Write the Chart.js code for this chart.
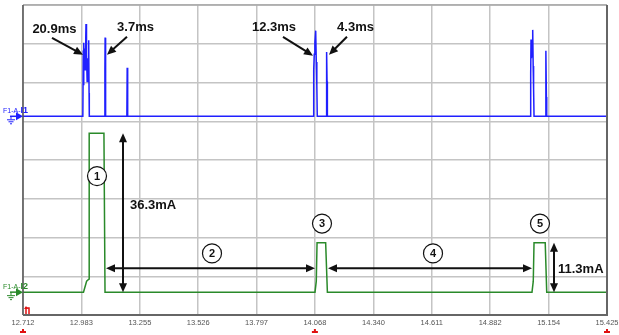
<!DOCTYPE html>
<html>
<head>
<meta charset="utf-8">
<script src="https://cdn.jsdelivr.net/npm/chart.js@4/dist/chart.umd.min.js"></script>
<style>
    body { margin: 0; background: #fff; }
</style>
</head>
<body>
<canvas id="myChart" width="619" height="335"></canvas>
<script>
/*
    Two channel scope capture: I1 (blue) on top, I2 (green, mA) below
*/

// x axis tick labels (time, s)
const tickLabels = ["12.712", "12.983", "13.255", "13.526", "13.797", "14.068", "14.340", "14.611", "14.882", "15.154", "15.425"]

// channel I1 - time (s) and level (divisions above its baseline)
const blueTime = [
    12.712,
    12.990, 12.992, 12.9935, 12.995, 12.997, 12.999, 13.001, 13.0035, 13.0047, 13.006, 13.008, 13.010, 13.012, 13.0145, 13.0172, 13.019, 13.020,
    13.0905, 13.0925, 13.0935, 13.095, 13.0965,
    13.1945, 13.1960, 13.1975, 13.199,
    14.060, 14.0625, 14.065, 14.068, 14.0717, 14.0745, 14.077, 14.079,
    14.1205, 14.1225, 14.1245, 14.126,
    15.069, 15.0705, 15.072, 15.074, 15.077, 15.0799, 15.082, 15.084, 15.086,
    15.139, 15.1405, 15.1416, 15.1435, 15.145,
    15.425
]
const blueValue = [
    0,
    0, 1.7, 0.8, 1.9, 1.4, 1.75, 1.2, 2.0, 2.38, 1.3, 1.6, 0.9, 1.5, 1.0, 1.96, 0.6, 0,
    0, 1.2, 2.03, 0.4, 0,
    0, 1.25, 0.6, 0,
    0, 1.2, 1.6, 1.9, 2.21, 1.4, 0.8, 0,
    0, 1.66, 0.9, 0,
    0, 1.1, 1.98, 1.5, 1.8, 2.23, 1.3, 0.7, 0,
    0, 0.9, 1.69, 0.5, 0,
    0
]

// channel I2 - time (s) and current (mA)
const greenTime = [12.712, 12.993, 13.0075, 13.019, 13.0195, 13.088, 13.093, 14.0685, 14.0745, 14.078, 14.118, 14.126, 15.0766, 15.0825, 15.086, 15.138, 15.145, 15.425]
const greenValue = [0, 0, 2.5, 3.0, 36.3, 36.3, 0, 0, 2.5, 11.3, 11.3, 0, 0, 2.5, 11.3, 11.3, 0, 0]

// annotations: t = time (s), d = grid divisions, mA = I2 axis
const msLabels = [
    { text: "20.9ms", t: 12.858, d: 7.36, fromT: 12.8467, fromD: 7.154, toT: 12.9907, toD: 6.718 },
    { text: "3.7ms", t: 13.2346, d: 7.41, fromT: 13.1951, fromD: 7.179, toT: 13.1022, toD: 6.718 },
    { text: "12.3ms", t: 13.878, d: 7.41, fromT: 13.9198, fromD: 7.179, toT: 14.0592, toD: 6.692 },
    { text: "4.3ms", t: 14.2567, d: 7.41, fromT: 14.2171, fromD: 7.179, toT: 14.1335, toD: 6.718 },
]
const mAArrows = [
    { t1: 13.1766, m1: 0, t2: 13.1766, m2: 36.3 },
    { t1: 13.0976, m1: 5.45, t2: 14.0685, m2: 5.45 },
    { t1: 14.129, m1: 5.45, t2: 15.0766, m2: 5.45 },
    { t1: 15.1788, m1: 0, t2: 15.1788, m2: 11.3 },
]
const mAText = [
    { text: "36.3mA", t: 13.209, mA: 19.7 },
    { text: "11.3mA", t: 15.1974, mA: 5.2 },
]
const circles = [
    { n: "1", t: 13.0558, mA: 26.5 },
    { n: "2", t: 13.590, mA: 8.85 },
    { n: "3", t: 14.101, mA: 15.66 },
    { n: "4", t: 14.6167, mA: 8.85 },
    { n: "5", t: 15.1137, mA: 15.66 },
]
const triggerTicks = ["12.712", "14.068", "15.425"]

const FONT = "'Liberation Sans', Arial, sans-serif"

function drawArrow(ctx, x1, y1, x2, y2, both) {
    const ang = Math.atan2(y2 - y1, x2 - x1)
    const len = 9, half = 4
    const head = (x, y, a) => {
        ctx.beginPath()
        ctx.moveTo(x, y)
        ctx.lineTo(x - len * Math.cos(a) + half * Math.sin(a), y - len * Math.sin(a) - half * Math.cos(a))
        ctx.lineTo(x - len * Math.cos(a) - half * Math.sin(a), y - len * Math.sin(a) + half * Math.cos(a))
        ctx.closePath()
        ctx.fill()
    }
    ctx.beginPath()
    const sx = both ? x1 + (len - 2) * Math.cos(ang) : x1
    const sy = both ? y1 + (len - 2) * Math.sin(ang) : y1
    ctx.moveTo(sx, sy)
    ctx.lineTo(x2 - (len - 2) * Math.cos(ang), y2 - (len - 2) * Math.sin(ang))
    ctx.stroke()
    head(x2, y2, ang)
    if (both) head(x1, y1, ang + Math.PI)
}

function channelTag(ctx, left, y, color, name) {
    ctx.fillStyle = color
    ctx.strokeStyle = color
    ctx.textBaseline = "alphabetic"
    ctx.textAlign = "left"
    ctx.font = `7px ${FONT}`
    ctx.fillText("F1-A-", 3, y - 3)
    const w = ctx.measureText("F1-A-").width
    ctx.font = `bold 9px ${FONT}`
    ctx.fillText(name, 3 + w, y - 3)
    // arrow into the trace
    ctx.lineWidth = 1.5
    ctx.beginPath()
    ctx.moveTo(10, y); ctx.lineTo(17, y); ctx.stroke()
    ctx.beginPath()
    ctx.moveTo(16, y - 4); ctx.lineTo(left, y); ctx.lineTo(16, y + 4); ctx.closePath(); ctx.fill()
    // ground mark
    ctx.lineWidth = 1
    ctx.beginPath()
    ctx.moveTo(11, y); ctx.lineTo(11, y + 3)
    ctx.moveTo(7, y + 3.5); ctx.lineTo(15, y + 3.5)
    ctx.moveTo(8.5, y + 5.5); ctx.lineTo(13.5, y + 5.5)
    ctx.moveTo(10, y + 7.5); ctx.lineTo(12, y + 7.5)
    ctx.stroke()
}

const notesPlugin = {
    id: "notes",
    afterDatasetsDraw(chart) {
        const ctx = chart.ctx
        const a = chart.chartArea
        const sx = chart.scales.x, sd = chart.scales.grid, sm = chart.scales.yG, sb = chart.scales.yB
        ctx.save()

        // frame
        ctx.lineCap = "butt"
        ctx.strokeStyle = "#a8a8a8"; ctx.lineWidth = 1.5
        ctx.beginPath(); ctx.moveTo(a.left, a.top); ctx.lineTo(a.right, a.top); ctx.stroke()
        ctx.strokeStyle = "#555"; ctx.lineWidth = 1.5
        ctx.beginPath(); ctx.moveTo(a.left, a.top); ctx.lineTo(a.left, a.bottom); ctx.stroke()
        ctx.strokeStyle = "#666"; ctx.lineWidth = 2
        ctx.beginPath(); ctx.moveTo(a.right, a.top); ctx.lineTo(a.right, a.bottom); ctx.lineTo(a.left, a.bottom); ctx.stroke()

        ctx.fillStyle = "#111"; ctx.strokeStyle = "#111"; ctx.lineWidth = 2

        // ms labels + arrows
        ctx.font = `bold 13px ${FONT}`
        ctx.textAlign = "center"; ctx.textBaseline = "middle"
        msLabels.forEach(l => {
            ctx.fillText(l.text, sx.getPixelForValue(l.t), sd.getPixelForValue(l.d))
            drawArrow(ctx, sx.getPixelForValue(l.fromT), sd.getPixelForValue(l.fromD),
                sx.getPixelForValue(l.toT), sd.getPixelForValue(l.toD), false)
        })

        // mA arrows
        mAArrows.forEach(r => {
            drawArrow(ctx, sx.getPixelForValue(r.t1), sm.getPixelForValue(r.m1),
                sx.getPixelForValue(r.t2), sm.getPixelForValue(r.m2), true)
        })
        ctx.textAlign = "left"
        mAText.forEach(l => {
            ctx.fillText(l.text, sx.getPixelForValue(l.t), sm.getPixelForValue(l.mA))
        })

        // numbered circles
        ctx.lineWidth = 1.2
        ctx.font = `bold 11px ${FONT}`
        ctx.textAlign = "center"
        circles.forEach(c => {
            const cx = sx.getPixelForValue(c.t), cy = sm.getPixelForValue(c.mA)
            ctx.fillStyle = "#fff"
            ctx.beginPath(); ctx.arc(cx, cy, 9.5, 0, Math.PI * 2); ctx.fill(); ctx.stroke()
            ctx.fillStyle = "#111"
            ctx.fillText(c.n, cx, cy + 0.5)
        })

        // channel tags
        channelTag(ctx, a.left, sb.getPixelForValue(0), "#2020ff", "I1")
        channelTag(ctx, a.left, sm.getPixelForValue(0), "#2a8a2a", "I2")

        // trigger marker
        ctx.strokeStyle = "#e01010"; ctx.fillStyle = "#e01010"; ctx.lineWidth = 1.5
        ctx.beginPath()
        ctx.moveTo(a.left + 3, a.bottom - 1); ctx.lineTo(a.left + 3, a.bottom - 7); ctx.lineTo(a.left + 6, a.bottom - 7)
        ctx.lineTo(a.left + 6, a.bottom - 1)
        ctx.stroke()
        ctx.beginPath()
        ctx.moveTo(a.left + 1, a.bottom - 6); ctx.lineTo(a.left + 3, a.bottom - 9); ctx.lineTo(a.left + 5, a.bottom - 6); ctx.fill()

        triggerTicks.forEach(v => {
            const px = sx.getPixelForValue(parseFloat(v))
            ctx.fillRect(px - 3, 331, 6, 2)
            ctx.fillRect(px - 1, 329, 2, 2)
        })
        ctx.restore()
    }
}

function createChart() {
    const ctx = document.getElementById("myChart")
    const blueData = blueTime.map((t, i) => ({ x: t, y: blueValue[i] }))
    const greenData = greenTime.map((t, i) => ({ x: t, y: greenValue[i] }))

    new Chart(ctx, {
        type: "line",
        data: {
            datasets: [
                {
                    label: "F1-A-I1",
                    data: blueData,
                    yAxisID: "yB",
                    borderColor: "#2020ff",
                    borderWidth: 1.5,
                    pointRadius: 0,
                    tension: 0,
                },
                {
                    label: "F1-A-I2",
                    data: greenData,
                    yAxisID: "yG",
                    borderColor: "#2a8a2a",
                    borderWidth: 1.5,
                    pointRadius: 0,
                    tension: 0,
                },
            ]
        },
        options: {
            responsive: false,
            animation: false,
            devicePixelRatio: 1,
            layout: { padding: { left: 23, right: 12, top: 5, bottom: 5 } },
            scales: {
                x: {
                    type: "linear",
                    min: 12.712,
                    max: 15.425,
                    afterBuildTicks: scale => {
                        scale.ticks = tickLabels.map(v => ({ value: parseFloat(v) }))
                    },
                    afterFit: scale => {
                        // labels may hang over the edges, the layout padding covers them
                        scale.paddingLeft = 0
                        scale.paddingRight = 0
                    },
                    ticks: {
                        autoSkip: false,
                        maxRotation: 0,
                        padding: 3,
                        color: "#555",
                        font: { size: 7.5, family: FONT },
                        callback: (value, index) => tickLabels[index],
                    },
                    grid: { color: "#c4c4c4", lineWidth: 1.5, drawTicks: false },
                    border: { display: false },
                },
                grid: {
                    position: "left",
                    min: 0,
                    max: 8,
                    ticks: { display: false, stepSize: 1 },
                    grid: { color: "#c4c4c4", lineWidth: 1.5, drawTicks: false },
                    border: { display: false },
                },
                yB: { display: false, min: -5.128, max: 2.872 },
                yG: { display: false, min: -5.22, max: 65.57 },
            },
            plugins: {
                legend: { display: false },
                tooltip: { enabled: false },
            }
        },
        plugins: [notesPlugin],
    })
}
createChart()
</script>
</body>
</html>
